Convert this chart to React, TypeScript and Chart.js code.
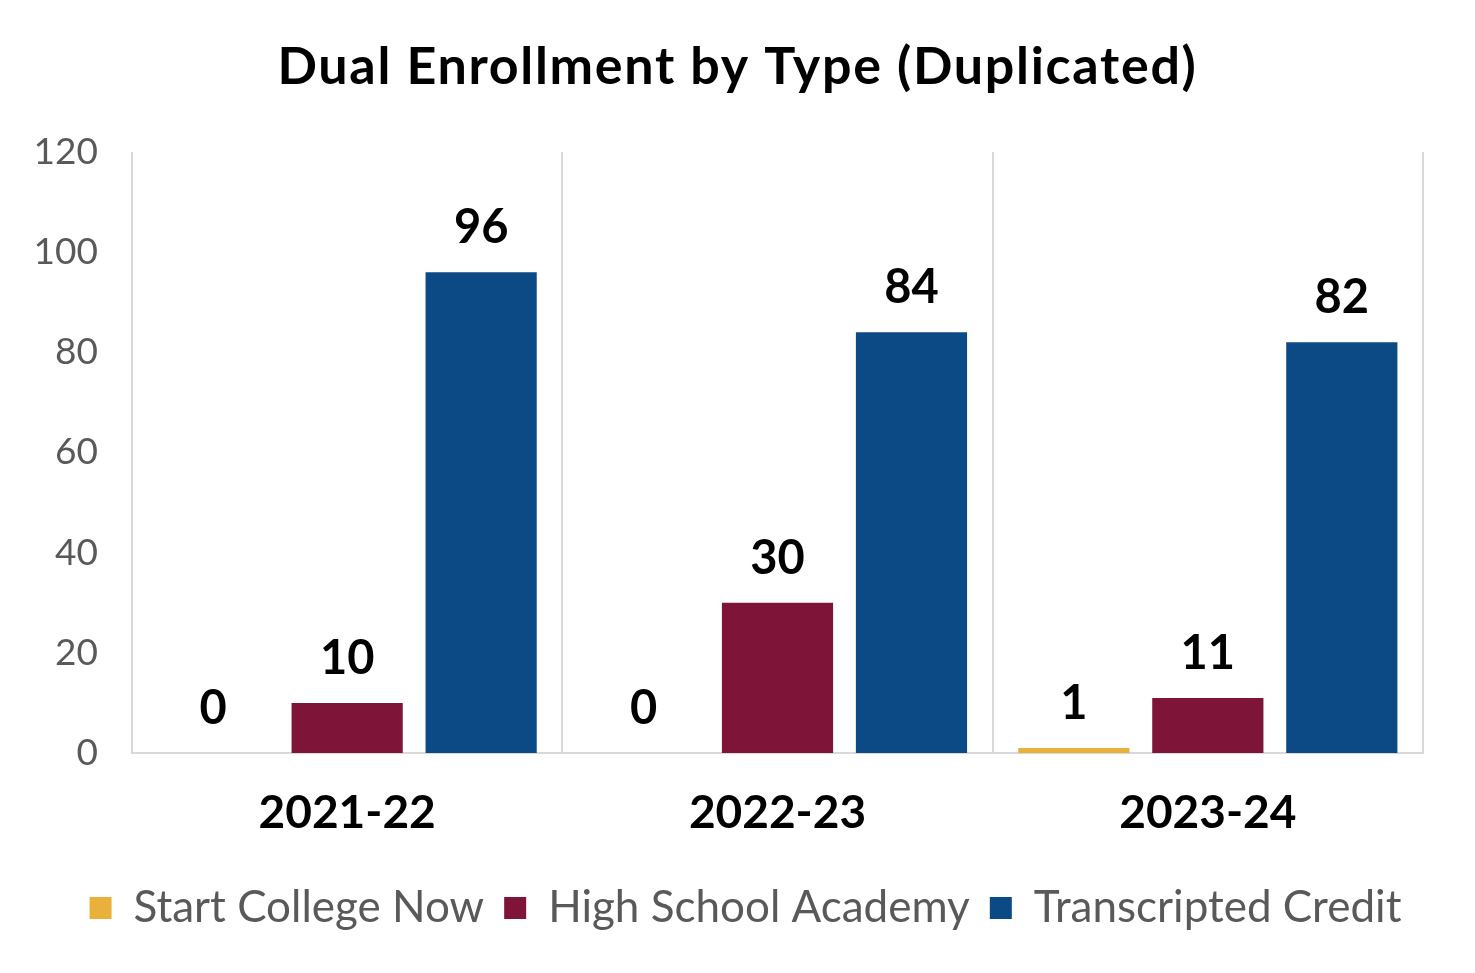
import React, { useEffect, useRef } from "react";
import { Chart, registerables } from "chart.js";

Chart.register(...registerables);

const categories = ["2021-22", "2022-23", "2023-24"];
const startCollegeNow = [0, 0, 1];
const highSchoolAcademy = [10, 30, 11];
const transcriptedCredit = [96, 84, 82];
const seriesNames = ["Start College Now", "High School Academy", "Transcripted Credit"];
const seriesColors = ["#E9B13B", "#7E1538", "#0B4A85"];
const titleText = "Dual Enrollment by Type (Duplicated)";
const yMin = 0;
const yMax = 120;
const yStep = 20;

const FONT = "Lato, 'Open Sans', sans-serif";

const titlePlugin = {
  id: "customTitle",
  afterDraw(chart: any) {
    const ctx = chart.ctx;
    ctx.save();
    ctx.font = `bold 52px ${FONT}`;
    (ctx as any).letterSpacing = "1.7px";
    ctx.fillStyle = "#000000";
    ctx.textAlign = "center";
    ctx.textBaseline = "middle";
    ctx.fillText(titleText, chart.width / 2, 67);
    ctx.restore();
  },
};

const legendShiftPlugin = {
  id: "legendShift",
  afterLayout(chart: any) {
    if (chart.legend) {
      chart.legend.left += 34;
      chart.legend.right += 34;
    }
  },
};

const dataLabelPlugin = {
  id: "dataLabels",
  afterDatasetsDraw(chart: any) {
    const ctx = chart.ctx;
    ctx.save();
    ctx.font = `bold 47px ${FONT}`;
    ctx.fillStyle = "#000000";
    ctx.textAlign = "center";
    ctx.textBaseline = "alphabetic";
    chart.data.datasets.forEach((ds: any, i: number) => {
      const meta = chart.getDatasetMeta(i);
      meta.data.forEach((el: any, j: number) => {
        ctx.fillText(String(ds.data[j]), el.x, el.y - 29);
      });
    });
    ctx.restore();
  },
};

export default function App() {
  const ref = useRef<HTMLCanvasElement | null>(null);
  useEffect(() => {
    if (!ref.current) return;
    const data = [startCollegeNow, highSchoolAcademy, transcriptedCredit];
    const chart = new Chart(ref.current, {
      type: "bar",
      data: {
        labels: categories,
        datasets: data.map((d, i) => ({
          label: seriesNames[i],
          data: d,
          backgroundColor: seriesColors[i],
          borderWidth: 0,
          barPercentage: 0.83,
          categoryPercentage: 0.934,
        })),
      },
      options: {
        animation: false,
        responsive: false,
        maintainAspectRatio: false,
        devicePixelRatio: 1,
        layout: { padding: { left: 0, right: 52, top: 152, bottom: 33 } },
        plugins: {
          title: { display: false },
          legend: {
            position: "bottom",
            labels: {
              boxWidth: 22,
              boxHeight: 22,
              color: "#595959",
              font: { family: FONT, size: 44 },
              padding: 20,
            },
          },
          tooltip: { enabled: false },
        },
        scales: {
          x: {
            grid: { display: true, offset: true, color: "#D9D9D9", lineWidth: 2, drawTicks: false },
            border: { display: true, color: "#D9D9D9", width: 2 },
            ticks: {
              color: "#000000",
              font: { family: FONT, size: 46, weight: "bold" },
              padding: 33,
            },
            afterFit(scale: any) {
              scale.height = 113;
            },
          },
          y: {
            min: yMin,
            max: yMax,
            grid: { display: false, drawTicks: false },
            border: { display: false },
            ticks: {
              stepSize: yStep,
              color: "#595959",
              font: { family: FONT, size: 37 },
              padding: 34,
            },
            afterFit(scale: any) {
              scale.width = 132;
            },
          },
        },
      },
      plugins: [dataLabelPlugin, titlePlugin, legendShiftPlugin],
    });
    return () => chart.destroy();
  }, []);
  return (
    <div style={{ position: "absolute", left: 0, top: 0, width: 1475, height: 973, background: "#fff" }}>
      <canvas ref={ref} width={1475} height={973} style={{ width: 1475, height: 973 }} />
    </div>
  );
}
